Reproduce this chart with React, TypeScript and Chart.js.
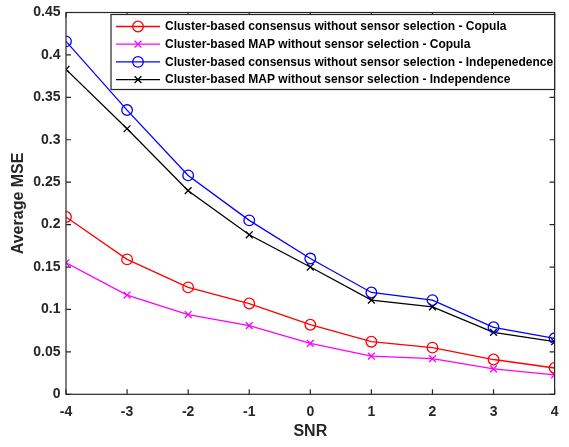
import React, { useEffect, useRef } from "react";
import { Chart, registerables } from "chart.js";

Chart.register(...registerables);

const snr = [-4, -3, -2, -1, 0, 1, 2, 3, 4];
const consensusCopula = [0.209, 0.159, 0.126, 0.107, 0.082, 0.062, 0.055, 0.041, 0.031];
const mapCopula = [0.155, 0.117, 0.094, 0.081, 0.06, 0.045, 0.042, 0.03, 0.023];
const consensusIndep = [0.416, 0.335, 0.258, 0.205, 0.16, 0.12, 0.111, 0.079, 0.066];
const mapIndep = [0.383, 0.313, 0.24, 0.188, 0.15, 0.111, 0.103, 0.073, 0.062];
const seriesLabels = [
  "Cluster-based consensus without sensor selection - Copula",
  "Cluster-based MAP without sensor selection - Copula",
  "Cluster-based consensus without sensor selection - Indepenedence",
  "Cluster-based MAP without sensor selection - Independence",
];
const seriesColors = ["#FF0000", "#FF00FF", "#0000FF", "#000000"];
const seriesMarkers = ["circle", "crossRot", "circle", "crossRot"];
const xTicks = [-4, -3, -2, -1, 0, 1, 2, 3, 4];
const yTicks = [0, 0.05, 0.1, 0.15, 0.2, 0.25, 0.3, 0.35, 0.4, 0.45];
const xTitle = "SNR";
const yTitle = "Average MSE";

const AXIS = "#262626";
const FONT = "'Liberation Sans', Arial, Helvetica, sans-serif";

const framePlugin = {
  id: "frameTicks",
  afterDraw(chart: any) {
    const { ctx, chartArea: a, scales } = chart;
    const xs = scales.x;
    const ys = scales.y;
    const len = 5;
    ctx.save();
    ctx.strokeStyle = AXIS;
    ctx.lineWidth = 1.2;
    ctx.beginPath();
    xTicks.forEach((v) => {
      const px = xs.getPixelForValue(v);
      ctx.moveTo(px, a.bottom);
      ctx.lineTo(px, a.bottom - len);
      ctx.moveTo(px, a.top);
      ctx.lineTo(px, a.top + len);
    });
    yTicks.forEach((v) => {
      const py = ys.getPixelForValue(v);
      ctx.moveTo(a.left, py);
      ctx.lineTo(a.left + len, py);
      ctx.moveTo(a.right, py);
      ctx.lineTo(a.right - len, py);
    });
    ctx.stroke();
    ctx.strokeRect(a.left, a.top, a.right - a.left, a.bottom - a.top);

    // legend box
    const lx = 111;
    const ly = 14.5;
    const lw = a.right - lx;
    const lh = 75;
    ctx.fillStyle = "#FFFFFF";
    ctx.fillRect(lx, ly, lw, lh);
    ctx.strokeRect(lx, ly, lw, lh);
    const rowH = 17.7;
    chart.data.datasets.forEach((ds: any, i: number) => {
      const y = ly + 12 + i * rowH;
      ctx.strokeStyle = ds.borderColor;
      ctx.lineWidth = 1.3;
      ctx.beginPath();
      ctx.moveTo(lx + 5, y);
      ctx.lineTo(lx + 49, y);
      ctx.stroke();
      const mx = lx + 27;
      ctx.beginPath();
      if (ds.pointStyle === "circle") {
        ctx.arc(mx, y, 5.3, 0, Math.PI * 2);
      } else {
        const r = 3.4;
        ctx.moveTo(mx - r, y - r);
        ctx.lineTo(mx + r, y + r);
        ctx.moveTo(mx - r, y + r);
        ctx.lineTo(mx + r, y - r);
      }
      ctx.stroke();
      ctx.fillStyle = "#000000";
      ctx.font = `bold 12px ${FONT}`;
      ctx.textBaseline = "middle";
      ctx.textAlign = "left";
      ctx.fillText(ds.label, lx + 54, y + 0.5);
    });
    ctx.restore();
  },
};

export default function App() {
  const ref = useRef<HTMLCanvasElement>(null);
  useEffect(() => {
    if (!ref.current) return;
    const series = [consensusCopula, mapCopula, consensusIndep, mapIndep];
    const chart = new Chart(ref.current, {
      type: "line",
      data: {
        datasets: series.map((vals, i) => ({
          label: seriesLabels[i],
          data: snr.map((x, j) => ({ x, y: vals[j] })),
          borderColor: seriesColors[i],
          backgroundColor: "rgba(0,0,0,0)",
          pointBorderColor: seriesColors[i],
          pointBackgroundColor: "rgba(0,0,0,0)",
          pointStyle: seriesMarkers[i] as any,
          pointRadius: seriesMarkers[i] === "circle" ? 5.3 : 4.8,
          pointBorderWidth: 1.3,
          borderWidth: 1.3,
          tension: 0,
          fill: false,
        })),
      },
      options: {
        responsive: false,
        animation: false,
        events: [],
        layout: { padding: { top: 7, right: 13, left: 0, bottom: 0 } },
        plugins: {
          legend: { display: false },
          tooltip: { enabled: false },
        },
        scales: {
          x: {
            type: "linear",
            min: -4,
            max: 4,
            afterBuildTicks: (s: any) => {
              s.ticks = xTicks.map((v) => ({ value: v }));
            },
            afterFit: (s: any) => {
              s.height = 52.7;
            },
            grid: { display: false, drawTicks: false },
            border: { display: false },
            ticks: {
              color: AXIS,
              padding: 10.5,
              maxRotation: 0,
              font: { family: FONT, size: 14, weight: "bold", lineHeight: 1 },
              callback: (v: any) => String(v),
            },
            title: {
              display: true,
              text: xTitle,
              color: AXIS,
              padding: { top: 0, bottom: 5.4 },
              font: { family: FONT, size: 16, weight: "bold", lineHeight: 1.2 },
            },
          },
          y: {
            type: "linear",
            min: 0,
            max: 0.45,
            afterBuildTicks: (s: any) => {
              s.ticks = yTicks.map((v) => ({ value: v }));
            },
            afterFit: (s: any) => {
              s.width = 66;
            },
            grid: { display: false, drawTicks: false },
            border: { display: false },
            ticks: {
              color: AXIS,
              padding: 5.5,
              font: { family: FONT, size: 14, weight: "bold", lineHeight: 1 },
              callback: (v: any) => String(Number(Number(v).toFixed(2))),
            },
            title: {
              display: true,
              text: yTitle,
              color: AXIS,
              padding: { top: 9.2, bottom: 0 },
              font: { family: FONT, size: 16, weight: "bold", lineHeight: 1.2 },
            },
          },
        },
      },
      plugins: [framePlugin],
    });
    return () => chart.destroy();
  }, []);
  return (
    <div style={{ position: "absolute", left: 0, top: 0, width: 569, height: 447, background: "#fff" }}>
      <canvas ref={ref} width={569} height={447} style={{ display: "block" }} />
    </div>
  );
}
